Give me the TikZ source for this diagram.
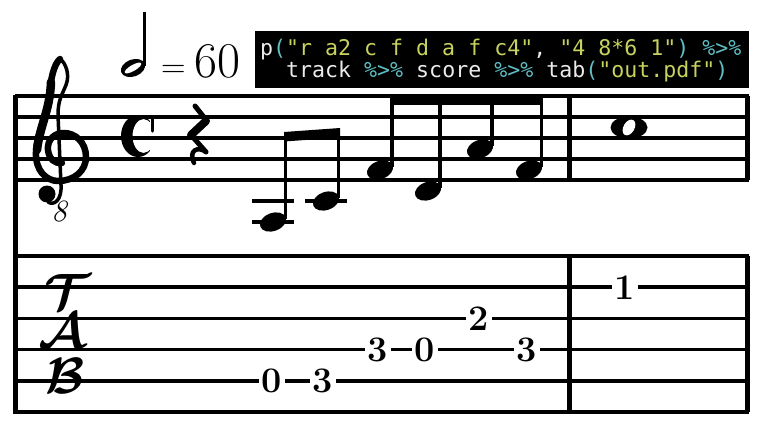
\documentclass[tikz,border=0pt]{standalone}
\usepackage{amsmath}
\usepackage{fontspec}
\newfontfamily\codefont{DejaVu Sans Mono}
\usetikzlibrary{shapes.geometric}

\begin{document}
\begin{tikzpicture}[x=1pt,y=-1pt,
	staff line/.style={line width=3.5pt},
	bar line/.style={line width=5pt},
	head/.style={ellipse,fill,inner sep=0pt,minimum width=27pt,minimum height=18pt,rotate=20},
	stem/.style={line width=3.2pt},
	clef thick/.style={line width=6.5pt,line cap=round,line join=round},
	clef thin/.style={line width=3.5pt,line cap=round},
	fret/.style={fill=white,inner xsep=2.5pt,inner ysep=1pt,font=\fontsize{36}{36}\selectfont\bfseries},
	code/.style={anchor=base west,inner sep=0pt,font=\codefont\fontsize{21.6}{22}\selectfont}]
	
	\definecolor{codewhite}{RGB}{235,235,235}
	\definecolor{codestr}{RGB}{200,210,95}
	\definecolor{codeop}{RGB}{95,190,195}
	
	\useasboundingbox (0,0) rectangle (761,423);
	
	\foreach \y in {96,117,138,159,180}
		\draw[staff line] (15,\y) -- (749,\y);
	\foreach \y in {256,287.2,318.4,349.6,380.8,412}
		\draw[staff line] (15,\y) -- (749,\y);
	
	\draw[bar line] (15,94.5) -- (15,413.5);
	\draw[bar line] (569,96) -- (569,180);
	\draw[bar line] (569,256) -- (569,412);
	\draw[bar line] (747,96) -- (747,180);
	\draw[bar line] (747,256) -- (747,412);
	
	\fill (255,31) rectangle (749,88);
	\node[code] (line1) at (260,55) {\color{codewhite}p\color{codeop}(\color{codestr}"r a2 c f d a f c4"\color{codewhite}, \color{codestr}"4 8*6 1"\color{codeop}) \%>\%};
	\node[code] (line2) at (286,77) {\color{codewhite}track \color{codeop}\%>\% \color{codewhite}score \color{codeop}\%>\% \color{codewhite}tab\color{codeop}(\color{codestr}"out.pdf"\color{codeop})};
	
	\node[head,minimum width=25pt,minimum height=17pt] (tempohead) at (133,68) {};
	\node[ellipse,fill=white,inner sep=0pt,minimum width=19pt,minimum height=6pt,rotate=30] at (tempohead) {};
	\draw[stem] (144.5,66) -- (144.5,12);
	\node[anchor=base west,inner sep=0pt,font=\fontsize{50}{50}\selectfont] (tempo) at (161,77) {{\fontsize{34}{34}\selectfont=}\hspace{9pt}60};
	
	\draw[clef thick] (60,59) .. controls (54,64) and (50,80) .. (50,95)
		.. controls (50,110) and (37,130) .. (36,152)
		.. controls (35,170) and (46,181) .. (58,181)
		.. controls (74,181) and (86,171) .. (86,157)
		.. controls (86,142) and (75,133) .. (64,133)
		.. controls (54,133) and (47,140) .. (48,150)
		.. controls (49,159) and (55,164) .. (62,163);
	\draw[clef thick,line width=8.5pt] (51,82) .. controls (50,110) and (40,125) .. (37,150);
	\draw[clef thin] (60,59) .. controls (66,63) and (70,75) .. (66,85)
		.. controls (62,95) and (58,100) .. (58,115)
		-- (61,185) .. controls (62,200) and (54,206) .. (48,202);
	\fill (47,194) circle[radius=8.5pt];
	\node[font=\fontsize{31}{31}\selectfont\itshape] (octave) at (59,212) {8};
	
	\begin{scope}
		\clip (138,136) -- (165,104) -- (100,100) -- (100,175) -- (165,168) -- cycle;
		\fill[even odd rule] (138,136) ellipse[x radius=17pt,y radius=21pt]
			(143.5,136) ellipse[x radius=11pt,y radius=17pt];
	\end{scope}
	\draw[line width=3.5pt,line cap=round] (152.5,118) -- (152.5,131);
	
	\draw[line width=5pt,line cap=round] (195,106) -- (207,121);
	\draw[line width=8pt,line cap=round] (206,121) -- (191,135);
	\draw[line width=5pt,line cap=round] (191,135) -- (206,152);
	\draw[line width=4.5pt,line cap=round] (206,152) .. controls (198,146) and (188,150) .. (194,163);
	
	\draw[staff line] (252,201) -- (294,201);
	\draw[staff line] (252,222) -- (294,222);
	\draw[staff line] (305,201) -- (347,201);
	
	\node[head] (n1) at (273,222) {};
	\node[head] (n2) at (326,201) {};
	\node[head] (n3) at (380,170) {};
	\node[head] (n4) at (428,191) {};
	\node[head] (n5) at (480,149) {};
	\node[head] (n6) at (529,170) {};
	
	\draw[stem] (285.5,219) -- (285.5,136);
	\draw[stem] (338.5,198) -- (338.5,132);
	\fill (284,132) -- (340,128) -- (340,137.5) -- (284,141.5) -- cycle;
	\draw[stem] (392,167) -- (392,100);
	\draw[stem] (440,188) -- (440,100);
	\draw[stem] (492,146) -- (492,100);
	\draw[stem] (541.5,167) -- (541.5,100);
	\fill (390.4,95) rectangle (543.1,105);
	
	\node[ellipse,fill,inner sep=0pt,minimum width=37pt,minimum height=22pt] (whole) at (629,127.5) {};
	\node[ellipse,fill=white,inner sep=0pt,minimum width=11pt,minimum height=17pt,rotate=-30] at (whole) {};
	
	\node[inner sep=0pt] (tabclef) at (62,339) {\scalebox{5.1}{$\begin{array}{@{}c@{}}
		\hspace{2.2pt}\boldsymbol{\mathcal{T}}\\[-4.3pt]
		\boldsymbol{\mathcal{A}}\\[-3.2pt]
		\hspace{1.1pt}\boldsymbol{\mathcal{B}}
	\end{array}$}};
	
	\node[fret] (f1) at (272,380.8) {0};
	\node[fret] (f2) at (323,380.8) {3};
	\node[fret] (f3) at (378,349.6) {3};
	\node[fret] (f4) at (425,349.6) {0};
	\node[fret] (f5) at (479,318.4) {2};
	\node[fret] (f6) at (527,349.6) {3};
	\node[fret] (f7) at (625,287.2) {1};
\end{tikzpicture}
\end{document}
